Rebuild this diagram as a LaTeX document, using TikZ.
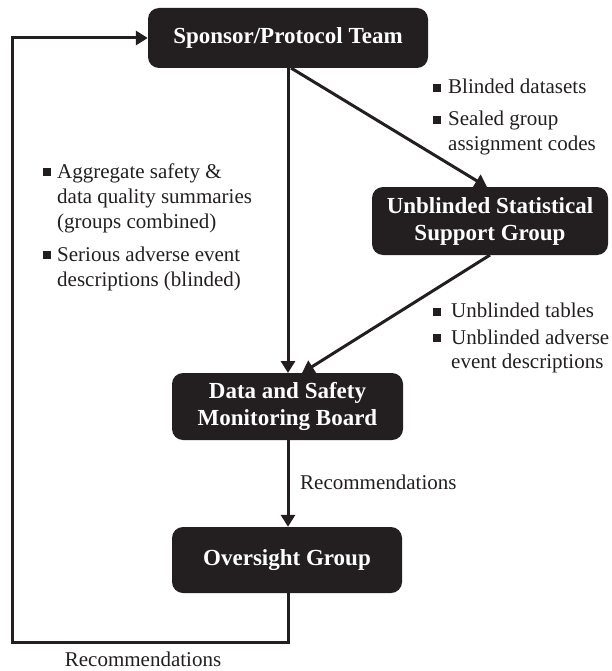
\documentclass[tikz,border=0pt]{standalone}
\usepackage{fontspec}
\setmainfont{Liberation Serif}
\usetikzlibrary{arrows.meta,positioning}
\definecolor{ink}{RGB}{35,31,32}
\begin{document}
\begin{tikzpicture}[x=1pt,y=-1pt,
  blk/.style={fill=ink, rounded corners=11pt, text=white, font=\fontsize{23}{27}\selectfont\bfseries, align=center, inner sep=0pt},
  conn/.style={line width=3pt, draw=ink, -{Triangle[length=12pt,width=14pt]}},
  lbl/.style={font=\fontsize{21}{25}\selectfont, align=left, text=ink, inner sep=0pt},
  bul/.style={fill=ink, minimum size=7.5pt, inner sep=0pt}
]
\useasboundingbox (0,0) rectangle (611,671);
\node[blk, minimum width=280pt, minimum height=60pt] (sp) at (288,38) {Sponsor/Protocol Team};
\node[blk, minimum width=236pt, minimum height=68pt] (us) at (490,221) {Unblinded Statistical\\Support Group};
\node[blk, minimum width=231pt, minimum height=67pt] (ds) at (287.5,406.5) {Data and Safety\\Monitoring Board};
\node[blk, minimum width=230pt, minimum height=66pt] (og) at (287,560) {Oversight Group};

\coordinate (spb) at (288,68);
\coordinate (spd) at (291,68);
\coordinate (ust) at (487,187);
\coordinate (usb) at (490,255);
\coordinate (dst) at (302,373);
\coordinate (dsv) at (288,373);
\coordinate (c1) at (288,642);
\coordinate (c2) at (12,642);
\coordinate (c3) at (12,38);

\draw[conn] (spb) -- (dsv);
\draw[conn] (spd) -- (ust);
\draw[conn] (usb) -- (dst);
\draw[conn] (ds.south -| dsv) -- (og.north -| dsv);
\draw[conn] (og.south -| dsv) -- (c1) -- (c2) -- (c3) -- (sp.west |- c3);

% top-right bullets (base anchor = baseline of last line)
\node[bul] (b1) at (437,88) {};
\node[lbl, anchor=base west] (t1) at (448,94) {Blinded datasets};
\node[bul] (b2) at (437,120) {};
\node[lbl, anchor=base west] (t2) at (448,151) {Sealed group\\assignment codes};

% left bullets
\node[bul] (b3) at (47,172) {};
\node[lbl, anchor=base west] (t3) at (57,228) {Aggregate safety \&\\data quality summaries\\(groups combined)};
\node[bul] (b4) at (47,255) {};
\node[lbl, anchor=base west] (t4) at (57,286) {Serious adverse event\\descriptions (blinded)};

% right-bottom bullets
\node[bul] (b5) at (437,312) {};
\node[lbl, anchor=base west] (t5) at (451,317) {Unblinded tables};
\node[bul] (b6) at (437,338) {};
\node[lbl, anchor=base west, font=\fontsize{21}{24}\selectfont] (t6) at (451,368) {Unblinded adverse\\event descriptions};

\node[lbl, anchor=base west] (r1) at (300,489) {Recommendations};
\node[lbl, anchor=base] (r2) at (143,666) {Recommendations};
\end{tikzpicture}
\end{document}
